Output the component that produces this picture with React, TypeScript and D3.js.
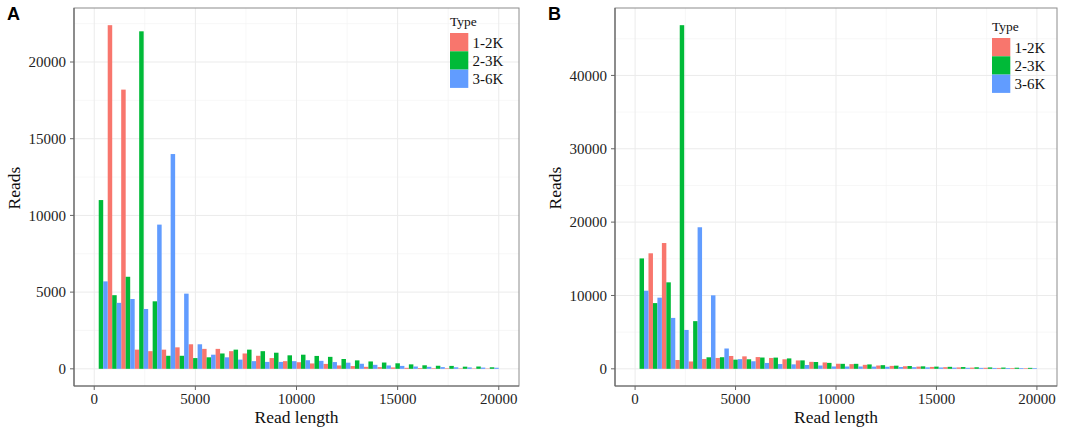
import * as d3 from 'd3';

// histogram bins: 30 bins over 0..20000 bp
const binCount = 30;
const readMax = 20000;
const binStarts = d3.range(binCount).map(i => (i * readMax) / binCount);

const types = ['1-2K', '2-3K', '3-6K'];
const typeColors = ['#F8766D', '#00BA38', '#619CFF'];

const xTicks = [0, 5000, 10000, 15000, 20000];

// panel A reads per bin
const readsA12 = [0, 22400, 18200, 1250, 1150, 1250, 1400, 1600, 1300, 1300, 1150, 1000, 850, 700, 500, 430, 350, 320, 220, 180, 130, 110, 90, 65, 50, 40, 35, 30, 25, 20];
const readsA23 = [11000, 4800, 6000, 22000, 4400, 850, 850, 700, 750, 1000, 1250, 1250, 1150, 1050, 880, 920, 840, 780, 640, 550, 480, 410, 360, 290, 230, 200, 190, 140, 150, 100];
const readsA36 = [5700, 4300, 4550, 3900, 9400, 14000, 4900, 1600, 920, 750, 600, 500, 450, 450, 500, 560, 520, 440, 400, 330, 260, 220, 190, 150, 130, 110, 100, 90, 80, 70];
const yTicksA = [0, 5000, 10000, 15000, 20000];

// panel B reads per bin
const readsB12 = [0, 15750, 17150, 1200, 1000, 1340, 1480, 1750, 1700, 1600, 1480, 1300, 1140, 950, 870, 690, 640, 545, 450, 400, 350, 300, 260, 220, 190, 160, 140, 120, 100, 80];
const readsB23 = [15050, 8960, 11790, 46850, 6500, 1570, 1580, 1250, 1300, 1540, 1530, 1420, 1150, 930, 810, 680, 680, 600, 500, 430, 380, 340, 300, 270, 240, 210, 190, 170, 150, 130];
const readsB36 = [10650, 9700, 6940, 5300, 19300, 10020, 2770, 1320, 1030, 800, 650, 610, 520, 450, 320, 315, 315, 300, 280, 250, 220, 200, 180, 160, 140, 130, 120, 110, 100, 90];
const yTicksB = [0, 10000, 20000, 30000, 40000];

const serif = '"Liberation Serif", "Times New Roman", serif';

interface PanelProps {
  label: string;
  series: number[][];
  yTicks: number[];
  left: number;
  right: number;
  legendX: number;
  legendY: number;
}

function Panel({ label, series, yTicks, left, right, legendX, legendY }: PanelProps) {
  const top = 8;
  const bottom = 386;
  const yMax = d3.max(series.flat()) ?? 0;

  // ggplot style 5% expansion
  const x = d3.scaleLinear().domain([-0.05 * readMax, 1.05 * readMax]).range([left, right]);
  const y = d3.scaleLinear().domain([-0.05 * yMax, 1.05 * yMax]).range([bottom, top]);

  const binWidth = readMax / binCount;
  const barWidth = binWidth / types.length;

  const minorX = xTicks.slice(1).map((t, i) => (t + xTicks[i]) / 2);
  const minorY = yTicks.slice(1).map((t, i) => (t + yTicks[i]) / 2);
  const yStep = yTicks[1] - yTicks[0];
  if (yTicks[yTicks.length - 1] + yStep / 2 < y.domain()[1]) minorY.push(yTicks[yTicks.length - 1] + yStep / 2);

  const midX = (left + right) / 2;
  const midY = (top + bottom) / 2 - 9;

  return (
    <g>
      {/* grid */}
      {minorX.map(t => (
        <line key={'mx' + t} x1={x(t)} x2={x(t)} y1={top} y2={bottom} stroke="#f2f2f2" strokeWidth={0.6} />
      ))}
      {minorY.map(t => (
        <line key={'my' + t} x1={left} x2={right} y1={y(t)} y2={y(t)} stroke="#f2f2f2" strokeWidth={0.6} />
      ))}
      {xTicks.map(t => (
        <line key={'gx' + t} x1={x(t)} x2={x(t)} y1={top} y2={bottom} stroke="#ebebeb" strokeWidth={1} />
      ))}
      {yTicks.map(t => (
        <line key={'gy' + t} x1={left} x2={right} y1={y(t)} y2={y(t)} stroke="#ebebeb" strokeWidth={1} />
      ))}

      {/* bars, dodged */}
      {series.map((vals, s) =>
        vals.map((v, i) => {
          if (v <= 0) return null;
          const x0 = x(binStarts[i] + s * barWidth);
          const x1 = x(binStarts[i] + (s + 1) * barWidth);
          return (
            <rect
              key={s + '-' + i}
              x={x0}
              y={y(v)}
              width={x1 - x0}
              height={y(0) - y(v)}
              fill={typeColors[s]}
            />
          );
        })
      )}

      {/* panel border */}
      <rect x={left} y={top} width={right - left} height={bottom - top} fill="none" stroke="#8c8c8c" strokeWidth={1} />
      <line x1={left} x2={left} y1={top} y2={bottom} stroke="#666" strokeWidth={1.2} />
      <line x1={left} x2={right} y1={bottom} y2={bottom} stroke="#666" strokeWidth={1.2} />

      {/* y axis */}
      {yTicks.map(t => (
        <g key={'yt' + t}>
          <line x1={left - 4} x2={left} y1={y(t)} y2={y(t)} stroke="#666" />
          <text x={left - 8} y={y(t)} dy="0.35em" textAnchor="end" fontFamily={serif} fontSize={15} fill="#222">
            {t}
          </text>
        </g>
      ))}
      {/* x axis */}
      {xTicks.map(t => (
        <g key={'xt' + t}>
          <line x1={x(t)} x2={x(t)} y1={bottom} y2={bottom + 4} stroke="#666" />
          <text x={x(t)} y={404} textAnchor="middle" fontFamily={serif} fontSize={15} fill="#222">
            {t}
          </text>
        </g>
      ))}

      <text x={midX} y={423} textAnchor="middle" fontFamily={serif} fontSize={17.5} fill="#111">
        Read length
      </text>
      <text
        transform={`translate(${left - 54},${midY}) rotate(-90)`}
        textAnchor="middle"
        fontFamily={serif}
        fontSize={17.5}
        fill="#111"
      >
        Reads
      </text>

      {/* panel letter */}
      <text x={left - 67} y={19.5} fontFamily='"Liberation Sans", Arial, sans-serif' fontWeight="bold" fontSize={18} fill="#000">
        {label}
      </text>

      {/* legend */}
      <g transform={`translate(${legendX},${legendY})`}>
        <text x={0} y={0} fontFamily={serif} fontSize={13.5} fill="#111">
          Type
        </text>
        {types.map((t, i) => (
          <g key={t} transform={`translate(0,${7 + i * 18.3})`}>
            <rect width={18.3} height={18.3} fill={typeColors[i]} />
            <text x={22.5} y={14.5} fontFamily={serif} fontSize={15} fill="#111">
              {t}
            </text>
          </g>
        ))}
      </g>
    </g>
  );
}

export default function App() {
  return (
    <svg
      width={1065}
      height={430}
      style={{ position: 'absolute', left: 0, top: 0, background: '#fff' }}
    >
      <rect width={1065} height={430} fill="#fff" />
      <Panel
        label="A"
        series={[readsA12, readsA23, readsA36]}
        yTicks={yTicksA}
        left={74}
        right={519}
        legendX={450}
        legendY={26}
      />
      <Panel
        label="B"
        series={[readsB12, readsB23, readsB36]}
        yTicks={yTicksB}
        left={615}
        right={1057}
        legendX={992}
        legendY={31}
      />
    </svg>
  );
}
